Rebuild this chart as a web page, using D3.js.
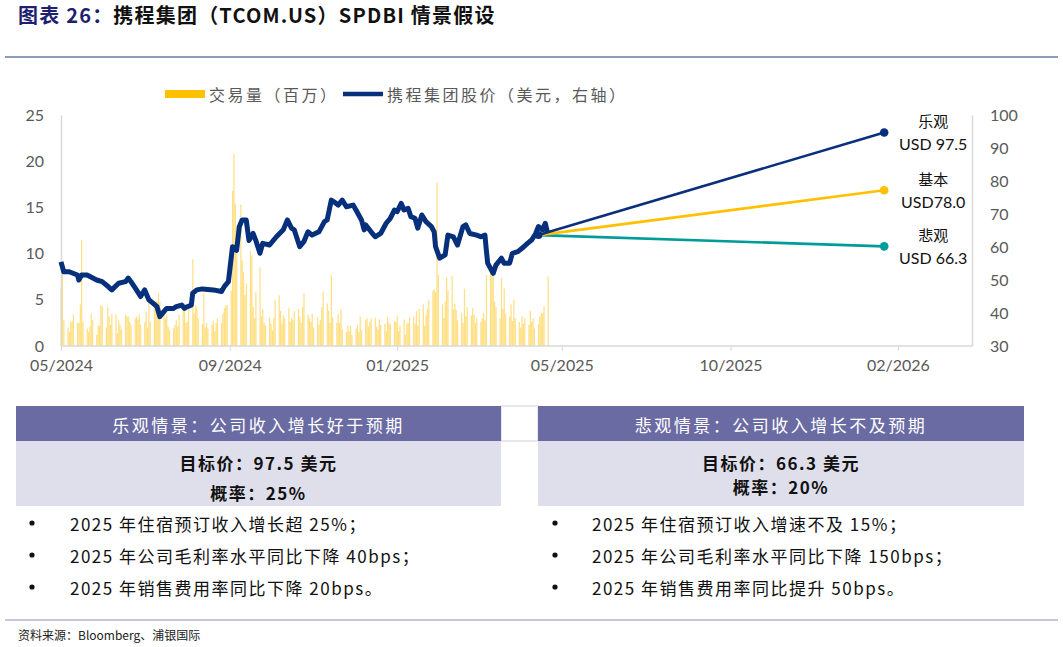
<!DOCTYPE html>
<head>
<meta charset="utf-8">
<title>携程集团 SPDBI 情景假设</title>
<script src="https://d3js.org/d3.v7.min.js"></script>
<style>
  body { margin:0; background:#fff; }
  svg text { font-family: Lato, "Noto Sans CJK SC", sans-serif; }
  .cjk { font-family: "Noto Sans CJK SC", sans-serif; }
  .axis text { fill:#595959; font-size:16px; }
  .axis path, .axis line { stroke:#d9d9d9; }
</style>
</head>
<body>
<div class="chartContainer"></div>
<script>
// ---- data ----
var titleText = "携程集团（TCOM.US）SPDBI 情景假设";
var titleLead = "图表 26：";

var xTickDates = ["2024-05-01","2024-09-01","2025-01-01","2025-05-01","2025-09-01","2026-01-01"];
var xTickLabels = ["05/2024","09/2024","01/2025","05/2025","10/2025","02/2026"];
var leftTicks = [0,5,10,15,20,25];
var rightTicks = [30,40,50,60,70,80,90,100];

var priceDates = ["2024-05-01","2024-05-03","2024-05-07","2024-05-13","2024-05-14","2024-05-16","2024-05-20","2024-05-27","2024-05-31",
  "2024-06-03","2024-06-07","2024-06-12","2024-06-17","2024-06-19","2024-06-21","2024-06-25","2024-06-28",
  "2024-07-01","2024-07-04","2024-07-07","2024-07-10","2024-07-12","2024-07-15","2024-07-17","2024-07-22","2024-07-24","2024-07-28","2024-07-30",
  "2024-08-01","2024-08-04","2024-08-05","2024-08-08","2024-08-12","2024-08-20","2024-08-26","2024-08-28","2024-08-31",
  "2024-09-01","2024-09-03","2024-09-06","2024-09-08","2024-09-10","2024-09-13","2024-09-15","2024-09-18","2024-09-20","2024-09-23","2024-09-25","2024-09-30",
  "2024-10-05","2024-10-10","2024-10-13","2024-10-16","2024-10-18","2024-10-22","2024-10-25","2024-10-28","2024-10-31",
  "2024-11-05","2024-11-09","2024-11-11","2024-11-14","2024-11-16","2024-11-19","2024-11-22","2024-11-25","2024-11-30",
  "2024-12-02","2024-12-06","2024-12-08","2024-12-09","2024-12-13","2024-12-16","2024-12-20","2024-12-24","2024-12-27","2024-12-30",
  "2025-01-01","2025-01-04","2025-01-06","2025-01-09","2025-01-11","2025-01-14","2025-01-16","2025-01-19","2025-01-22","2025-01-26","2025-01-28","2025-01-29",
  "2025-02-01","2025-02-05","2025-02-07","2025-02-11","2025-02-14","2025-02-18","2025-02-20","2025-02-23","2025-02-28",
  "2025-03-03","2025-03-06","2025-03-07","2025-03-08","2025-03-12","2025-03-14","2025-03-18","2025-03-20","2025-03-24","2025-03-26","2025-03-30",
  "2025-04-02","2025-04-06","2025-04-09","2025-04-12","2025-04-14","2025-04-17","2025-04-19","2025-04-21"];
var priceValues = [55.5,52.5,52.5,51.5,50.0,51.5,51.5,50.0,49.5,
  48.5,47.0,49.0,49.5,50.6,49.5,47.0,45.0,
  47.0,44.0,43.0,41.9,38.9,40.4,41.4,41.4,41.9,42.4,41.4,
  41.9,42.4,46.0,47.0,47.3,47.0,46.5,48.0,49.5,
  53.0,60.1,59.0,66.2,68.2,68.2,62.0,64.1,62.0,58.1,61.1,60.6,
  63.1,65.2,68.2,65.7,65.2,60.1,61.6,64.6,63.6,
  64.6,67.7,68.2,74.2,73.7,72.7,74.2,72.2,72.7,
  71.2,68.2,65.2,66.7,64.6,63.1,64.1,67.2,68.7,71.2,
  70.7,73.2,71.2,71.7,69.2,68.7,65.7,69.7,67.7,66.2,64.6,60.1,
  56.6,57.6,63.6,63.1,60.6,66.2,66.7,64.1,63.6,
  63.1,63.6,59.1,55.1,52.0,54.5,56.6,55.1,55.1,58.1,58.6,
  59.6,61.1,62.1,64.1,66.2,65.2,67.2,63.6];

// daily volume (million), one value per weekday from volumeStart
var volumeStart = "2024-05-01";
var volumeValues = [6.4,9.0,2.8,2.0,1.5,2.6,2.7,3.4,2.5,2.5,4.5,11.5,2.6,1.9,1.5,2.1,3.5,2.8,1.2,2.2,
  2.2,4.4,4.3,2.0,4.2,3.2,2.3,3.5,3.4,1.4,2.8,2.3,1.8,3.4,3.2,3.2,2.6,2.3,3.0,3.2,
  2.9,3.4,2.3,2.6,3.7,2.0,5.3,2.6,4.4,4.9,4.8,5.7,4.8,4.1,3.0,3.4,2.1,1.7,1.9,2.3,
  2.8,2.1,3.4,4.1,4.6,2.5,2.6,4.3,9.4,3.5,4.4,4.2,3.0,2.4,5.7,2.0,2.5,1.9,2.3,2.7,
  1.6,2.5,3.0,2.5,3.5,4.1,4.4,4.4,6.0,16.8,20.8,15.4,13.0,15.3,9.3,8.0,5.5,6.8,10.3,9.8,
  4.2,3.0,5.8,8.5,3.2,4.0,2.5,2.2,3.1,2.4,1.7,3.0,5.0,5.5,3.8,2.4,3.3,3.0,4.1,2.6,
  3.0,2.8,3.8,4.0,3.2,2.5,4.2,5.7,3.4,3.0,2.6,3.5,2.0,3.1,2.3,2.8,4.2,5.9,4.6,3.8,
  2.5,7.7,3.1,2.5,3.4,2.5,4.0,1.8,1.5,2.2,1.6,2.2,1.2,1.9,2.3,1.5,3.2,1.7,2.8,3.0,
  2.1,2.6,3.0,3.1,2.1,1.8,2.9,2.3,2.4,1.6,3.1,2.5,2.3,2.7,2.6,3.3,1.6,2.2,2.9,1.2,
  2.4,2.5,3.1,3.2,2.4,3.8,2.2,4.0,4.5,2.2,3.3,4.0,5.0,6.0,6.1,5.8,17.7,7.7,4.5,3.0,
  4.8,7.4,6.0,7.6,4.0,4.6,3.9,2.8,3.6,2.5,6.2,3.2,4.2,3.3,4.1,3.4,2.5,3.0,2.6,3.0,
  3.6,2.8,7.7,8.5,7.7,7.6,4.8,4.2,3.0,7.4,4.0,6.2,3.5,3.2,4.5,2.7,5.0,3.0,2.6,2.0,
  3.2,2.4,3.0,2.3,3.8,2.6,3.0,1.9,2.4,3.2,3.6,3.5,4.3,7.5];

var scenarioNames = ["乐观","基本","悲观"];
var scenarioLabels = ["USD 97.5","USD78.0","USD 66.3"];
var scenarioColors = ["#0a2f7c","#ffc000","#009b9b"];
var scenarioStart = {date:"2025-04-14", value:63.6};
var scenarioEndDate = "2025-12-22";
var scenarioEndValues = [94.7, 77.2, 60.2];

var legendLabels = ["交易量（百万）","携程集团股价（美元，右轴）"];

var cardTitles = ["乐观情景：公司收入增长好于预期","悲观情景：公司收入增长不及预期"];
var cardTargets = ["目标价：97.5 美元","目标价：66.3 美元"];
var cardProbs = ["概率：25%","概率：20%"];
var cardBullets = [
  ["2025 年住宿预订收入增长超 25%；","2025 年公司毛利率水平同比下降 40bps；","2025 年销售费用率同比下降 20bps。"],
  ["2025 年住宿预订收入增速不及 15%；","2025 年公司毛利率水平同比下降 150bps；","2025 年销售费用率同比提升 50bps。"]
];
var sourceText = "资料来源：Bloomberg、浦银国际";

// ---- chart ----
var W = 1063, H = 647;
var parse = d3.timeParse("%Y-%m-%d");
var svg = d3.select(".chartContainer").append("svg").attr("width", W).attr("height", H);

// title
var t = svg.append("text").attr("x", 18).attr("y", 23).attr("class","cjk")
  .style("font-size","20px").style("font-weight","bold").style("letter-spacing","1.2px");
t.append("tspan").attr("fill","#1f1f70").text(titleLead);
t.append("tspan").attr("fill","#111").text(titleText);
svg.append("line").attr("x1",5).attr("x2",1058).attr("y1",57).attr("y2",57)
  .attr("stroke","#8a9cbf").attr("stroke-width",2);

var plot = {left:61, right:972, top:115, bottom:346};
var x = d3.scaleTime().domain([parse("2024-05-01"), parse("2026-02-24")]).range([plot.left, plot.right]);
var yL = d3.scaleLinear().domain([0,25]).range([plot.bottom, plot.top]);
var yR = d3.scaleLinear().domain([30,100]).range([plot.bottom, plot.top]);

// volume bars
var volData = [];
var cur = parse(volumeStart);
volumeValues.forEach(function(v) {
  while (cur.getDay() === 0 || cur.getDay() === 6) cur = d3.timeDay.offset(cur, 1);
  volData.push({date:new Date(cur), v:v});
  cur = d3.timeDay.offset(cur, 1);
});
svg.append("g").selectAll("rect").data(volData).enter().append("rect")
  .attr("x", function(d){ return x(d.date) - 0.5; })
  .attr("width", 1.2)
  .attr("y", function(d){ return yL(d.v); })
  .attr("height", function(d){ return yL(0) - yL(d.v); })
  .attr("fill", "#ffc000").attr("opacity", 0.5);

// axes
var xAxis = d3.axisBottom(x).tickValues(xTickDates.map(parse))
  .tickFormat(function(d,i){ return xTickLabels[i]; }).tickSize(5).tickPadding(9);
var gx = svg.append("g").attr("class","axis").attr("transform","translate(0,"+plot.bottom+")").call(xAxis);
gx.select(".domain").attr("d","M"+plot.left+",0H"+plot.right).attr("stroke-width",1.5);

var gl = svg.append("g").attr("class","axis").attr("transform","translate("+plot.left+",0)")
  .call(d3.axisLeft(yL).tickValues(leftTicks).tickSize(0).tickPadding(17));
gl.select(".domain").attr("stroke-width",1.5);
var gr = svg.append("g").attr("class","axis").attr("transform","translate("+plot.right+",0)")
  .call(d3.axisRight(yR).tickValues(rightTicks).tickSize(0).tickPadding(18));
gr.select(".domain").attr("stroke-width",1.5);

// price line
var priceData = priceDates.map(function(d,i){ return {date:parse(d), v:priceValues[i]}; });
svg.append("path").datum(priceData)
  .attr("fill","none").attr("stroke","#062f7c").attr("stroke-width",5).attr("stroke-linejoin","round")
  .attr("d", d3.line().x(function(d){ return x(d.date); }).y(function(d){ return yR(d.v); }));

// scenarios
var sx0 = x(parse(scenarioStart.date)), sy0 = yR(scenarioStart.value);
var sx1 = x(parse(scenarioEndDate));
[2,1,0].forEach(function(i) {
  svg.append("line").attr("x1",sx0).attr("y1",sy0).attr("x2",sx1).attr("y2",yR(scenarioEndValues[i]))
    .attr("stroke",scenarioColors[i]).attr("stroke-width",2.6);
  svg.append("circle").attr("cx",sx1).attr("cy",yR(scenarioEndValues[i])).attr("r",4.3).attr("fill",scenarioColors[i]);
  svg.append("text").attr("class","cjk").attr("x",sx1+49).attr("y",yR(scenarioEndValues[i])-12)
    .attr("text-anchor","middle").attr("dominant-baseline","central").style("font-size","15px").attr("fill","#111")
    .text(scenarioNames[i]);
  svg.append("text").attr("x",sx1+49).attr("y",yR(scenarioEndValues[i])+11)
    .attr("text-anchor","middle").attr("dominant-baseline","central").style("font-size","16px").attr("fill","#111")
    .text(scenarioLabels[i]);
});
svg.append("circle").attr("cx",sx0).attr("cy",sy0).attr("r",4).attr("fill","#062f7c");

// legend
var lg = svg.append("g").attr("transform","translate(165,94)");
lg.append("rect").attr("x",0).attr("y",-4).attr("width",40).attr("height",8).attr("fill","#ffc000");
lg.append("text").attr("class","cjk").attr("x",44).attr("y",0).attr("dominant-baseline","central")
  .style("font-size","16px").style("letter-spacing","2.5px").attr("fill","#595959").text(legendLabels[0]);
lg.append("line").attr("x1",178).attr("x2",218).attr("y1",0).attr("y2",0).attr("stroke","#062f7c").attr("stroke-width",4.5);
lg.append("text").attr("class","cjk").attr("x",222).attr("y",0).attr("dominant-baseline","central")
  .style("font-size","16px").style("letter-spacing","2.5px").attr("fill","#595959").text(legendLabels[1]);

// scenario cards
var cards = [{x0:16, x1:501, dot:32, tx:70, lines:[462,492]}, {x0:538, x1:1024, dot:555, tx:592, lines:[462,486]}];
svg.append("rect").attr("x",501).attr("y",406).attr("width",37).attr("height",35)
  .attr("fill","#fff").attr("stroke","#cfcfdf").attr("stroke-width",1);
cards.forEach(function(c, i) {
  var cx = (c.x0 + c.x1) / 2;
  svg.append("rect").attr("x",c.x0).attr("y",406).attr("width",c.x1-c.x0).attr("height",35).attr("fill","#6b6ba4");
  svg.append("rect").attr("x",c.x0).attr("y",441).attr("width",c.x1-c.x0).attr("height",65).attr("fill","#dfdfeb");
  svg.append("text").attr("class","cjk").attr("x",cx).attr("y",424).attr("text-anchor","middle")
    .attr("dominant-baseline","central").style("font-size","17px").style("letter-spacing","2.5px")
    .attr("fill","#fff").text(cardTitles[i]);
  svg.append("text").attr("class","cjk").attr("x",cx).attr("y",c.lines[0]).attr("text-anchor","middle")
    .attr("dominant-baseline","central").style("font-size","17px").style("font-weight","bold")
    .style("letter-spacing","1.5px").attr("fill","#111").text(cardTargets[i]);
  svg.append("text").attr("class","cjk").attr("x",cx).attr("y",c.lines[1]).attr("text-anchor","middle")
    .attr("dominant-baseline","central").style("font-size","17px").style("font-weight","bold")
    .style("letter-spacing","1.5px").attr("fill","#111").text(cardProbs[i]);
  cardBullets[i].forEach(function(b, j) {
    var yy = 523 + j * 32;
    svg.append("circle").attr("cx",c.dot).attr("cy",yy).attr("r",2.6).attr("fill","#111");
    svg.append("text").attr("class","cjk").attr("x",c.tx).attr("y",yy).attr("dominant-baseline","central")
      .style("font-size","17px").style("letter-spacing","1.5px").attr("fill","#111").text(b);
  });
});

// footer
svg.append("line").attr("x1",5).attr("x2",1058).attr("y1",620).attr("y2",620)
  .attr("stroke","#b3b3d1").attr("stroke-width",1.5);
svg.append("text").attr("class","cjk").attr("x",18).attr("y",634).attr("dominant-baseline","central")
  .style("font-size","12px").attr("fill","#222").text(sourceText);
</script>
</body>
</html>
